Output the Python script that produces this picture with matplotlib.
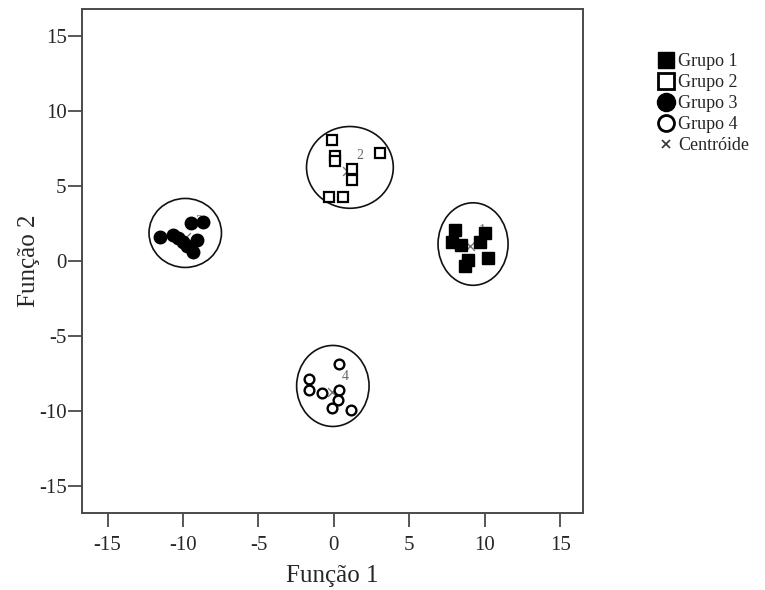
import numpy as np
import matplotlib
matplotlib.use('Agg')
import matplotlib.pyplot as plt
from matplotlib.patches import Ellipse
from matplotlib.lines import Line2D

plt.rcParams['font.family'] = ['Liberation Serif', 'DejaVu Serif']
plt.rcParams['axes.unicode_minus'] = False

# discriminant scores (Função 1, Função 2) per group
g1_x = [8.0, 7.8, 8.4, 10.0, 9.7, 8.9, 8.7, 10.2]
g1_y = [2.1, 1.3, 1.1, 1.9, 1.3, 0.1, -0.3, 0.2]
g2_x = [-0.1, 0.1, 0.1, 1.2, 1.2, -0.3, 0.6, 3.05]
g2_y = [8.1, 7.0, 6.7, 6.15, 5.4, 4.3, 4.3, 7.2]
g3_x = [-11.55, -10.65, -10.35, -10.0, -9.75, -9.35, -9.1, -9.45, -8.65]
g3_y = [1.6, 1.75, 1.55, 1.3, 1.05, 0.6, 1.4, 2.55, 2.65]
g4_x = [0.35, -1.65, -1.65, -0.8, 0.35, 0.25, -0.1, 1.1]
g4_y = [-6.85, -7.85, -8.55, -8.8, -8.6, -9.25, -9.8, -9.9]

# group centroids
cent_x = [9.0, 0.85, -9.8, -0.1]
cent_y = [1.0, 6.0, 1.6, -8.7]
cent_lbl = ['1', '2', '3', '4']

# ellipses drawn round each group
ell_cx = [9.22, 1.06, -9.85, -0.07]
ell_cy = [1.16, 6.27, 1.9, -8.3]
ell_w = [4.64, 5.75, 4.8, 4.8]
ell_h = [5.5, 5.45, 4.6, 5.4]

ticks = [-15, -10, -5, 0, 5, 10, 15]

grey = '#4a4a4a'
txt = '#262626'

fig = plt.figure(figsize=(7.65, 5.9), dpi=100)
ax = fig.add_axes([0.107, 0.131, 0.655, 0.853])

for cx, cy, w, h in zip(ell_cx, ell_cy, ell_w, ell_h):
    ax.add_patch(Ellipse((cx, cy), w, h, fill=False, ec='#111111', lw=1.2, zorder=1))

ax.scatter(cent_x, cent_y, marker='x', s=40, c='#777777', lw=1.0, zorder=2)
for x, y, t in zip(cent_x, cent_y, cent_lbl):
    ax.text(x + 0.85, y + 1.05, t, color='#666666', fontsize=10,
            ha='center', va='center', zorder=2)

ax.plot(g1_x, g1_y, 's', ms=9, mfc='black', mec='black', ls='none', zorder=3)
ax.plot(g2_x, g2_y, 's', ms=7.5, mfc='white', mec='black', mew=1.6, ls='none', zorder=3)
ax.plot(g3_x, g3_y, 'o', ms=9, mfc='black', mec='black', ls='none', zorder=3)
ax.plot(g4_x, g4_y, 'o', ms=7, mfc='white', mec='black', mew=1.7, ls='none', zorder=3)

ax.set_xlim(-16.7, 16.5)
ax.set_ylim(-16.75, 16.8)
ax.set_xticks(ticks)
ax.set_yticks(ticks)
ax.tick_params(direction='out', length=10, width=1.3, color=grey,
               labelsize=15, labelcolor=txt, pad=1)
ax.tick_params(axis='x', pad=7)
for sp in ax.spines.values():
    sp.set_color(grey)
    sp.set_linewidth(1.4)

ax.set_xlabel('Função 1', fontsize=18, color=txt, labelpad=7)
ax.set_ylabel('Função 2', fontsize=18, color=txt, labelpad=-1)

handles = [
    Line2D([], [], marker='s', ls='none', ms=12, mfc='black', mec='black'),
    Line2D([], [], marker='s', ls='none', ms=11, mfc='white', mec='black', mew=2.0),
    Line2D([], [], marker='o', ls='none', ms=13, mfc='black', mec='black'),
    Line2D([], [], marker='o', ls='none', ms=11.5, mfc='white', mec='black', mew=2.0),
    Line2D([], [], marker='x', ls='none', ms=6, mec='#333333', mew=1.2),
]
labels = ['Grupo 1', 'Grupo 2', 'Grupo 3', 'Grupo 4', 'Centróide']
fig.legend(handles, labels, loc='upper left', bbox_to_anchor=(0.859, 0.91),
           frameon=False, fontsize=13, handlelength=1.0, handletextpad=0.15,
           labelspacing=0.22, borderpad=0, borderaxespad=0, labelcolor=txt)

fig.savefig('out.png', dpi=100)
